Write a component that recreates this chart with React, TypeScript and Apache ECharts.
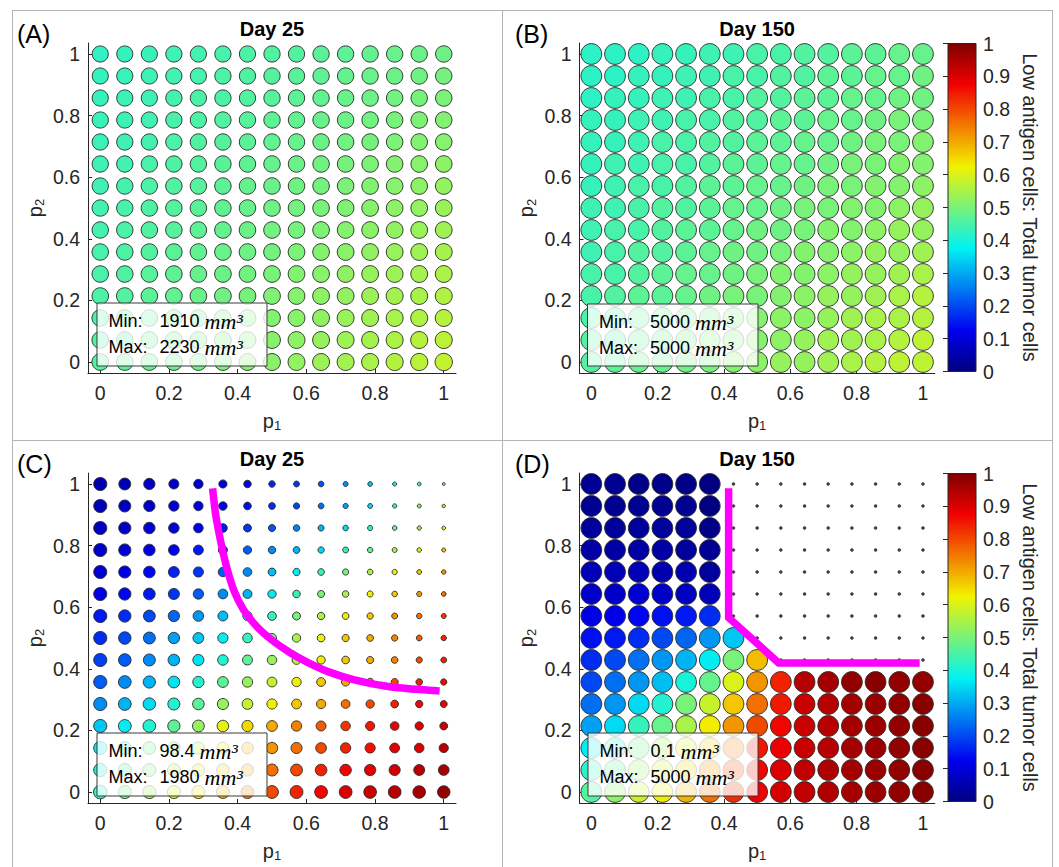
import React, { useEffect, useRef } from 'react';
import * as echarts from 'echarts';

// ---------------- data ----------------
const P = [0, 0.0714, 0.1429, 0.2143, 0.2857, 0.3571, 0.4286, 0.5, 0.5714, 0.6429, 0.7143, 0.7857, 0.8571, 0.9286, 1];
const axisTickValues = [0, 0.2, 0.4, 0.6, 0.8, 1];
const colorbarTickValues = [0, 0.1, 0.2, 0.3, 0.4, 0.5, 0.6, 0.7, 0.8, 0.9, 1];
const panelLabels = ['(A)', '(B)', '(C)', '(D)'];
const panelTitles = ['Day 25', 'Day 150', 'Day 25', 'Day 150'];
const colorbarTitle = 'Low antigen cells: Total tumor cells';
const legendLabels = ['Min:', 'Max:'];
const volumeUnit = 'mm³';
const xName = 'p';
const yName = 'p';

// rows: top (p2 = 1) to bottom (p2 = 0); columns: p1 = 0 .. 1
const fracA = [
  [0.425, 0.430, 0.434, 0.439, 0.444, 0.448, 0.453, 0.458, 0.462, 0.467, 0.471, 0.476, 0.481, 0.485, 0.490],
  [0.428, 0.432, 0.437, 0.442, 0.447, 0.452, 0.457, 0.462, 0.467, 0.472, 0.476, 0.481, 0.486, 0.491, 0.496],
  [0.430, 0.435, 0.440, 0.445, 0.451, 0.456, 0.461, 0.466, 0.471, 0.476, 0.482, 0.487, 0.492, 0.497, 0.502],
  [0.433, 0.438, 0.443, 0.449, 0.454, 0.460, 0.465, 0.470, 0.476, 0.481, 0.487, 0.492, 0.498, 0.503, 0.508],
  [0.435, 0.441, 0.446, 0.452, 0.458, 0.463, 0.469, 0.475, 0.480, 0.486, 0.492, 0.497, 0.503, 0.509, 0.514],
  [0.438, 0.443, 0.449, 0.455, 0.461, 0.467, 0.473, 0.479, 0.485, 0.491, 0.497, 0.503, 0.509, 0.514, 0.520],
  [0.440, 0.446, 0.452, 0.459, 0.465, 0.471, 0.477, 0.483, 0.489, 0.496, 0.502, 0.508, 0.514, 0.520, 0.526],
  [0.443, 0.449, 0.455, 0.462, 0.468, 0.475, 0.481, 0.488, 0.494, 0.500, 0.507, 0.513, 0.520, 0.526, 0.533],
  [0.445, 0.452, 0.458, 0.465, 0.472, 0.478, 0.485, 0.492, 0.498, 0.505, 0.512, 0.519, 0.525, 0.532, 0.539],
  [0.448, 0.454, 0.461, 0.468, 0.475, 0.482, 0.489, 0.496, 0.503, 0.510, 0.517, 0.524, 0.531, 0.538, 0.545],
  [0.450, 0.457, 0.464, 0.472, 0.479, 0.486, 0.493, 0.500, 0.508, 0.515, 0.522, 0.529, 0.536, 0.544, 0.551],
  [0.453, 0.460, 0.467, 0.475, 0.482, 0.490, 0.497, 0.505, 0.512, 0.520, 0.527, 0.535, 0.542, 0.549, 0.557],
  [0.455, 0.463, 0.470, 0.478, 0.486, 0.494, 0.501, 0.509, 0.517, 0.524, 0.532, 0.540, 0.548, 0.555, 0.563],
  [0.458, 0.465, 0.473, 0.481, 0.489, 0.497, 0.505, 0.513, 0.521, 0.529, 0.537, 0.545, 0.553, 0.561, 0.569],
  [0.460, 0.468, 0.476, 0.485, 0.493, 0.501, 0.509, 0.517, 0.526, 0.534, 0.542, 0.550, 0.558, 0.567, 0.575],
];
const volA = [
  [1910, 1914, 1919, 1925, 1930, 1934, 1939, 1945, 1950, 1955, 1961, 1966, 1972, 1977, 1983],
  [1918, 1923, 1928, 1933, 1938, 1943, 1948, 1954, 1959, 1964, 1970, 1975, 1981, 1986, 1992],
  [1927, 1932, 1937, 1942, 1947, 1952, 1957, 1963, 1968, 1974, 1979, 1985, 1991, 1996, 2002],
  [1936, 1941, 1946, 1951, 1956, 1962, 1967, 1973, 1978, 1984, 1990, 1996, 2002, 2007, 2013],
  [1945, 1950, 1955, 1961, 1966, 1972, 1977, 1983, 1989, 1995, 2001, 2007, 2013, 2019, 2025],
  [1955, 1960, 1965, 1971, 1976, 1982, 1988, 1994, 2000, 2006, 2012, 2018, 2025, 2031, 2037],
  [1965, 1970, 1976, 1981, 1987, 1993, 1999, 2005, 2011, 2017, 2024, 2030, 2037, 2043, 2050],
  [1975, 1981, 1986, 1992, 1998, 2004, 2010, 2017, 2023, 2029, 2036, 2043, 2049, 2056, 2063],
  [1986, 1992, 1997, 2003, 2009, 2016, 2022, 2029, 2035, 2042, 2049, 2056, 2063, 2070, 2077],
  [1997, 2003, 2009, 2015, 2021, 2028, 2034, 2041, 2048, 2055, 2062, 2069, 2076, 2084, 2091],
  [2009, 2015, 2021, 2027, 2034, 2040, 2047, 2054, 2061, 2068, 2075, 2083, 2090, 2098, 2106],
  [2021, 2027, 2033, 2040, 2046, 2053, 2060, 2067, 2074, 2082, 2089, 2097, 2105, 2113, 2121],
  [2033, 2040, 2046, 2053, 2059, 2066, 2073, 2081, 2088, 2096, 2104, 2112, 2120, 2128, 2137],
  [2046, 2053, 2059, 2066, 2073, 2080, 2087, 2095, 2103, 2111, 2119, 2127, 2135, 2144, 2153],
  [2060, 2066, 2073, 2080, 2087, 2094, 2102, 2110, 2118, 2126, 2134, 2143, 2152, 2190, 2230],
];

const fracB = [
  [0.42, 0.42, 0.42, 0.43, 0.43, 0.44, 0.44, 0.45, 0.45, 0.46, 0.46, 0.47, 0.47, 0.48, 0.48],
  [0.42, 0.42, 0.43, 0.43, 0.44, 0.44, 0.45, 0.45, 0.46, 0.46, 0.47, 0.47, 0.48, 0.48, 0.49],
  [0.42, 0.43, 0.43, 0.44, 0.44, 0.45, 0.45, 0.46, 0.46, 0.47, 0.47, 0.48, 0.48, 0.49, 0.49],
  [0.43, 0.43, 0.44, 0.44, 0.45, 0.45, 0.46, 0.46, 0.47, 0.47, 0.48, 0.48, 0.49, 0.50, 0.50],
  [0.43, 0.43, 0.44, 0.45, 0.45, 0.46, 0.46, 0.47, 0.47, 0.48, 0.48, 0.49, 0.50, 0.50, 0.51],
  [0.43, 0.44, 0.44, 0.45, 0.45, 0.46, 0.47, 0.47, 0.48, 0.48, 0.49, 0.50, 0.50, 0.51, 0.51],
  [0.43, 0.44, 0.45, 0.45, 0.46, 0.47, 0.47, 0.48, 0.48, 0.49, 0.50, 0.50, 0.51, 0.51, 0.52],
  [0.44, 0.44, 0.45, 0.46, 0.46, 0.47, 0.48, 0.48, 0.49, 0.50, 0.50, 0.51, 0.51, 0.52, 0.53],
  [0.44, 0.45, 0.45, 0.46, 0.47, 0.47, 0.48, 0.49, 0.49, 0.50, 0.51, 0.51, 0.52, 0.53, 0.53],
  [0.44, 0.45, 0.46, 0.46, 0.47, 0.48, 0.49, 0.49, 0.50, 0.51, 0.51, 0.52, 0.53, 0.53, 0.54],
  [0.45, 0.45, 0.46, 0.47, 0.48, 0.48, 0.49, 0.50, 0.51, 0.51, 0.52, 0.53, 0.53, 0.54, 0.55],
  [0.45, 0.46, 0.47, 0.47, 0.48, 0.49, 0.50, 0.50, 0.51, 0.52, 0.53, 0.53, 0.54, 0.55, 0.56],
  [0.45, 0.46, 0.47, 0.48, 0.49, 0.49, 0.50, 0.51, 0.52, 0.52, 0.53, 0.54, 0.55, 0.55, 0.56],
  [0.46, 0.46, 0.47, 0.48, 0.49, 0.50, 0.50, 0.51, 0.52, 0.53, 0.54, 0.54, 0.55, 0.56, 0.57],
  [0.46, 0.47, 0.48, 0.48, 0.49, 0.50, 0.51, 0.52, 0.53, 0.53, 0.54, 0.55, 0.56, 0.57, 0.57],
];
const volB = [
  [5000, 5000, 5000, 5000, 5000, 5000, 5000, 5000, 5000, 5000, 5000, 5000, 5000, 5000, 5000],
  [5000, 5000, 5000, 5000, 5000, 5000, 5000, 5000, 5000, 5000, 5000, 5000, 5000, 5000, 5000],
  [5000, 5000, 5000, 5000, 5000, 5000, 5000, 5000, 5000, 5000, 5000, 5000, 5000, 5000, 5000],
  [5000, 5000, 5000, 5000, 5000, 5000, 5000, 5000, 5000, 5000, 5000, 5000, 5000, 5000, 5000],
  [5000, 5000, 5000, 5000, 5000, 5000, 5000, 5000, 5000, 5000, 5000, 5000, 5000, 5000, 5000],
  [5000, 5000, 5000, 5000, 5000, 5000, 5000, 5000, 5000, 5000, 5000, 5000, 5000, 5000, 5000],
  [5000, 5000, 5000, 5000, 5000, 5000, 5000, 5000, 5000, 5000, 5000, 5000, 5000, 5000, 5000],
  [5000, 5000, 5000, 5000, 5000, 5000, 5000, 5000, 5000, 5000, 5000, 5000, 5000, 5000, 5000],
  [5000, 5000, 5000, 5000, 5000, 5000, 5000, 5000, 5000, 5000, 5000, 5000, 5000, 5000, 5000],
  [5000, 5000, 5000, 5000, 5000, 5000, 5000, 5000, 5000, 5000, 5000, 5000, 5000, 5000, 5000],
  [5000, 5000, 5000, 5000, 5000, 5000, 5000, 5000, 5000, 5000, 5000, 5000, 5000, 5000, 5000],
  [5000, 5000, 5000, 5000, 5000, 5000, 5000, 5000, 5000, 5000, 5000, 5000, 5000, 5000, 5000],
  [5000, 5000, 5000, 5000, 5000, 5000, 5000, 5000, 5000, 5000, 5000, 5000, 5000, 5000, 5000],
  [5000, 5000, 5000, 5000, 5000, 5000, 5000, 5000, 5000, 5000, 5000, 5000, 5000, 5000, 5000],
  [5000, 5000, 5000, 5000, 5000, 5000, 5000, 5000, 5000, 5000, 5000, 5000, 5000, 5000, 5000],
];

const fracC = [
  [0.05, 0.06, 0.07, 0.08, 0.09, 0.10, 0.12, 0.16, 0.18, 0.21, 0.27, 0.33, 0.39, 0.45, 0.50],
  [0.06, 0.07, 0.08, 0.09, 0.10, 0.12, 0.14, 0.17, 0.20, 0.24, 0.29, 0.35, 0.43, 0.52, 0.56],
  [0.07, 0.08, 0.09, 0.10, 0.12, 0.15, 0.18, 0.21, 0.26, 0.31, 0.35, 0.41, 0.48, 0.55, 0.60],
  [0.08, 0.09, 0.11, 0.12, 0.15, 0.18, 0.22, 0.27, 0.31, 0.35, 0.43, 0.48, 0.55, 0.61, 0.67],
  [0.09, 0.11, 0.13, 0.16, 0.18, 0.22, 0.27, 0.32, 0.37, 0.43, 0.50, 0.55, 0.62, 0.67, 0.72],
  [0.11, 0.13, 0.15, 0.18, 0.22, 0.27, 0.31, 0.37, 0.43, 0.50, 0.55, 0.62, 0.67, 0.72, 0.76],
  [0.15, 0.17, 0.20, 0.23, 0.28, 0.32, 0.37, 0.43, 0.50, 0.55, 0.62, 0.67, 0.72, 0.76, 0.82],
  [0.17, 0.20, 0.24, 0.29, 0.33, 0.37, 0.43, 0.50, 0.55, 0.62, 0.67, 0.70, 0.74, 0.78, 0.84],
  [0.19, 0.22, 0.27, 0.31, 0.36, 0.41, 0.47, 0.53, 0.56, 0.62, 0.67, 0.70, 0.74, 0.80, 0.84],
  [0.22, 0.27, 0.31, 0.36, 0.41, 0.47, 0.53, 0.58, 0.62, 0.67, 0.70, 0.74, 0.80, 0.84, 0.87],
  [0.27, 0.31, 0.35, 0.41, 0.47, 0.53, 0.58, 0.62, 0.67, 0.70, 0.76, 0.80, 0.84, 0.87, 0.88],
  [0.33, 0.37, 0.41, 0.47, 0.53, 0.61, 0.65, 0.70, 0.74, 0.78, 0.82, 0.85, 0.88, 0.90, 0.92],
  [0.37, 0.42, 0.48, 0.53, 0.58, 0.63, 0.68, 0.72, 0.76, 0.80, 0.84, 0.86, 0.89, 0.90, 0.94],
  [0.40, 0.45, 0.50, 0.56, 0.60, 0.65, 0.70, 0.76, 0.80, 0.84, 0.87, 0.89, 0.91, 0.94, 0.96],
  [0.42, 0.48, 0.54, 0.60, 0.64, 0.68, 0.74, 0.80, 0.84, 0.87, 0.90, 0.92, 0.94, 0.96, 0.98],
];
const volC = [
  [1846, 1519, 1356, 1078, 942, 713, 603, 462, 374, 339, 265, 236, 174, 151, 98.4],
  [1846, 1543, 1356, 1140, 942, 763, 633, 502, 410, 362, 295, 255, 199, 166, 122],
  [1846, 1592, 1402, 1182, 980, 815, 681, 544, 462, 398, 339, 285, 236, 191, 151],
  [1846, 1592, 1425, 1224, 1039, 868, 729, 603, 502, 436, 374, 317, 265, 217, 174],
  [1846, 1592, 1448, 1268, 1099, 942, 797, 665, 559, 475, 410, 351, 295, 245, 208],
  [1846, 1617, 1472, 1312, 1140, 999, 850, 729, 618, 530, 462, 398, 339, 285, 236],
  [1846, 1641, 1496, 1356, 1203, 1058, 923, 797, 681, 588, 502, 436, 374, 317, 275],
  [1846, 1666, 1519, 1379, 1246, 1119, 980, 868, 746, 649, 559, 488, 423, 362, 317],
  [1846, 1691, 1543, 1425, 1312, 1182, 1058, 942, 832, 729, 633, 544, 475, 410, 362],
  [1846, 1717, 1592, 1472, 1356, 1246, 1140, 1019, 923, 815, 713, 618, 544, 475, 423],
  [1846, 1742, 1641, 1543, 1425, 1334, 1224, 1119, 1019, 923, 815, 729, 649, 573, 516],
  [1846, 1768, 1691, 1592, 1496, 1425, 1334, 1246, 1140, 1058, 961, 886, 797, 729, 665],
  [1846, 1794, 1742, 1666, 1592, 1519, 1448, 1379, 1312, 1224, 1161, 1099, 1019, 961, 905],
  [1846, 1820, 1794, 1742, 1691, 1641, 1592, 1543, 1496, 1448, 1402, 1356, 1312, 1268, 1224],
  [1980, 1846, 1846, 1820, 1820, 1794, 1794, 1768, 1768, 1742, 1742, 1717, 1717, 1691, 1666],
];

const N = null;
const fracD = [
  [0.02, 0.02, 0.01, 0.01, 0.01, 0.00, N, N, N, N, N, N, N, N, N],
  [0.02, 0.02, 0.02, 0.02, 0.02, 0.00, N, N, N, N, N, N, N, N, N],
  [0.03, 0.03, 0.03, 0.03, 0.03, 0.01, N, N, N, N, N, N, N, N, N],
  [0.04, 0.04, 0.04, 0.04, 0.03, 0.02, N, N, N, N, N, N, N, N, N],
  [0.06, 0.06, 0.06, 0.05, 0.05, 0.03, N, N, N, N, N, N, N, N, N],
  [0.08, 0.08, 0.09, 0.08, 0.07, 0.06, N, N, N, N, N, N, N, N, N],
  [0.11, 0.12, 0.13, 0.14, 0.15, 0.17, N, N, N, N, N, N, N, N, N],
  [0.14, 0.15, 0.17, 0.20, 0.23, 0.28, 0.33, N, N, N, N, N, N, N, N],
  [0.17, 0.20, 0.24, 0.28, 0.31, 0.37, 0.50, 0.68, N, N, N, N, N, N, N],
  [0.20, 0.24, 0.28, 0.32, 0.40, 0.48, 0.60, 0.72, 0.84, 0.94, 0.96, 0.98, 0.99, 0.98, 0.98],
  [0.24, 0.28, 0.35, 0.41, 0.50, 0.58, 0.67, 0.76, 0.85, 0.92, 0.94, 0.96, 0.97, 0.98, 0.99],
  [0.29, 0.35, 0.43, 0.48, 0.55, 0.63, 0.72, 0.80, 0.87, 0.92, 0.94, 0.96, 0.97, 0.98, 0.99],
  [0.37, 0.42, 0.48, 0.54, 0.60, 0.66, 0.74, 0.85, 0.88, 0.92, 0.94, 0.96, 0.97, 0.98, 0.99],
  [0.42, 0.47, 0.53, 0.59, 0.65, 0.72, 0.80, 0.87, 0.90, 0.93, 0.95, 0.96, 0.97, 0.98, 0.99],
  [0.46, 0.52, 0.58, 0.63, 0.69, 0.76, 0.83, 0.88, 0.91, 0.93, 0.95, 0.96, 0.97, 0.98, 0.99],
];
const volD = [
  [5000, 5000, 5000, 5000, 5000, 5000, 0.1, 0.1, 0.1, 0.1, 0.1, 0.1, 0.1, 0.1, 0.1],
  [5000, 5000, 5000, 5000, 5000, 5000, 0.1, 0.1, 0.1, 0.1, 0.1, 0.1, 0.1, 0.1, 0.1],
  [5000, 5000, 5000, 5000, 5000, 5000, 0.1, 0.1, 0.1, 0.1, 0.1, 0.1, 0.1, 0.1, 0.1],
  [5000, 5000, 5000, 5000, 5000, 5000, 0.1, 0.1, 0.1, 0.1, 0.1, 0.1, 0.1, 0.1, 0.1],
  [5000, 5000, 5000, 5000, 5000, 5000, 0.1, 0.1, 0.1, 0.1, 0.1, 0.1, 0.1, 0.1, 0.1],
  [5000, 5000, 5000, 5000, 5000, 5000, 0.1, 0.1, 0.1, 0.1, 0.1, 0.1, 0.1, 0.1, 0.1],
  [5000, 5000, 5000, 5000, 5000, 5000, 0.1, 0.1, 0.1, 0.1, 0.1, 0.1, 0.1, 0.1, 0.1],
  [5000, 5000, 5000, 5000, 5000, 5000, 5000, 0.1, 0.1, 0.1, 0.1, 0.1, 0.1, 0.1, 0.1],
  [5000, 5000, 5000, 5000, 5000, 5000, 5000, 5000, 0.1, 0.1, 0.1, 0.1, 0.1, 0.1, 0.1],
  [5000, 5000, 5000, 5000, 5000, 5000, 5000, 5000, 5000, 5000, 5000, 5000, 5000, 5000, 5000],
  [5000, 5000, 5000, 5000, 5000, 5000, 5000, 5000, 5000, 5000, 5000, 5000, 5000, 5000, 5000],
  [5000, 5000, 5000, 5000, 5000, 5000, 5000, 5000, 5000, 5000, 5000, 5000, 5000, 5000, 5000],
  [5000, 5000, 5000, 5000, 5000, 5000, 5000, 5000, 5000, 5000, 5000, 5000, 5000, 5000, 5000],
  [5000, 5000, 5000, 5000, 5000, 5000, 5000, 5000, 5000, 5000, 5000, 5000, 5000, 5000, 5000],
  [5000, 5000, 5000, 5000, 5000, 5000, 5000, 5000, 5000, 5000, 5000, 5000, 5000, 5000, 5000],
];

// boundary curves (p1, p2)
const boundaryC = [
  [0.327, 0.986], [0.336, 0.9], [0.352, 0.806], [0.368, 0.73], [0.389, 0.655], [0.417, 0.592],
  [0.455, 0.538], [0.5, 0.493], [0.553, 0.452], [0.605, 0.42], [0.665, 0.39], [0.74, 0.364],
  [0.83, 0.344], [0.9, 0.335], [0.988, 0.328],
];
const boundaryD = [[0.414, 0.986], [0.414, 0.566], [0.565, 0.419], [0.99, 0.419]];

// ---------------- styling ----------------
const FONT = '"Liberation Sans", Arial, Helvetica, sans-serif';
const SERIF = '"Liberation Serif", "Times New Roman", serif';
const AX = '#262626';
const JET = ['#000080', '#0000F2', '#0079F2', '#00F2F2', '#79F279', '#F2F200', '#F27900', '#F20000', '#800000'];
const AXIS_MIN = -0.0357;
const AXIS_MAX = 1.0357;

const grids = [
  { left: 88, top: 43, width: 368, height: 330 },
  { left: 579.5, top: 43, width: 355.3, height: 330 },
  { left: 88, top: 473, width: 368, height: 330 },
  { left: 579.5, top: 473, width: 355.3, height: 330 },
];
const colorbarGrids = [
  { left: 948, top: 43.5, width: 28, height: 328 },
  { left: 948, top: 473.5, width: 28, height: 328 },
];
const sizeScale = [
  { dmax: 17.4, vmax: 2230 },
  { dmax: 20.8, vmax: 5000 },
  { dmax: 13.6, vmax: 1980 },
  { dmax: 20.8, vmax: 5000 },
];
const legendBoxes = [
  { x: 97, y: 303, w: 170, h: 63 },
  { x: 587.5, y: 304, w: 170.5, h: 62 },
  { x: 97, y: 733, w: 170, h: 63 },
  { x: 588, y: 733, w: 170, h: 63 },
];

function points(frac: (number | null)[][], vol: number[][], keep: (f: number | null) => boolean) {
  const out: any[] = [];
  for (let r = 0; r < frac.length; r++) {
    for (let c = 0; c < frac[r].length; c++) {
      const f = frac[r][c];
      if (!keep(f)) continue;
      out.push([P[c], P[P.length - 1 - r], f === null ? 0 : f, vol[r][c]]);
    }
  }
  return out;
}

function minMax(vol: number[][]) {
  let mn = Infinity;
  let mx = -Infinity;
  vol.forEach((row) => row.forEach((v) => { mn = Math.min(mn, v); mx = Math.max(mx, v); }));
  return [mn, mx];
}

function sizer(i: number) {
  const s = sizeScale[i];
  return (val: number[]) => Math.max(3, s.dmax * Math.sqrt(val[3] / s.vmax));
}

function subName(base: string, sub: string) {
  return `{a|${base}}{b|${sub}}`;
}
const nameRich = {
  a: { fontSize: 20, fontFamily: FONT, color: AX },
  b: { fontSize: 13, fontFamily: FONT, color: AX, padding: [10, 0, 0, 0] },
};

function xAxisFor(gi: number) {
  return {
    gridIndex: gi,
    type: 'value',
    min: AXIS_MIN,
    max: AXIS_MAX,
    axisLine: { show: true, onZero: false, lineStyle: { color: AX, width: 1 } },
    axisTick: { show: true, inside: true, length: 4, customValues: axisTickValues, lineStyle: { color: AX, width: 1 } },
    axisLabel: { show: true, customValues: axisTickValues, margin: 10, fontSize: 19.5, fontFamily: FONT, color: AX },
    splitLine: { show: false },
    name: subName(xName, '1'),
    nameLocation: 'middle',
    nameGap: 36,
    nameTextStyle: { rich: nameRich },
  };
}
function yAxisFor(gi: number) {
  return {
    gridIndex: gi,
    type: 'value',
    min: AXIS_MIN,
    max: AXIS_MAX,
    axisLine: { show: true, onZero: false, lineStyle: { color: AX, width: 1 } },
    axisTick: { show: true, inside: true, length: 4, customValues: axisTickValues, lineStyle: { color: AX, width: 1 } },
    axisLabel: { show: true, customValues: axisTickValues, margin: 8, fontSize: 19.5, fontFamily: FONT, color: AX },
    splitLine: { show: false },
    name: subName(yName, '2'),
    nameLocation: 'middle',
    nameGap: 42,
    nameTextStyle: { rich: nameRich },
  };
}
function cbYAxis(gi: number) {
  return {
    gridIndex: gi,
    type: 'value',
    min: 0,
    max: 1,
    position: 'right',
    axisLine: { show: false },
    axisTick: { show: true, inside: true, length: 5, customValues: colorbarTickValues, lineStyle: { color: AX, width: 1 } },
    axisLabel: { show: true, customValues: colorbarTickValues, margin: 7, fontSize: 19.5, fontFamily: FONT, color: AX },
    splitLine: { show: false },
    name: colorbarTitle,
    nameLocation: 'middle',
    nameRotate: -90,
    nameGap: 44,
    nameTextStyle: { fontSize: 20, fontFamily: FONT, color: AX },
  };
}

const markerStyle = { borderColor: '#2b2b2b', borderWidth: 0.9, opacity: 1 };
const lineStyle = { color: '#FF00FF', width: 7.5, cap: 'butt', join: 'miter' };

export default function App() {
  const ref = useRef<HTMLDivElement>(null);

  useEffect(() => {
    document.body.style.margin = '0';
    if (!ref.current) return;
    const chart = echarts.init(ref.current, null, { renderer: 'svg' });

    const gradient = () =>
      new echarts.graphic.LinearGradient(0, 1, 0, 0, JET.map((c, i) => ({ offset: i / (JET.length - 1), color: c })));

    const vols = [volA, volB, volC, volD];
    const graphics: any[] = [];
    const frameStyle = { stroke: '#b5b5b5', lineWidth: 1 };
    [
      [12, 10.5, 1052, 10.5], [12, 440.5, 1052, 440.5],
      [12.5, 10, 12.5, 867], [502.5, 10, 502.5, 867], [1052.5, 10, 1052.5, 867],
    ].forEach(([x1, y1, x2, y2]) =>
      graphics.push({ type: 'line', shape: { x1, y1, x2, y2 }, style: frameStyle, z: 1, silent: true })
    );
    grids.forEach((g, i) => {
      const row = i < 2 ? 0 : 430;
      graphics.push({
        type: 'text', x: i % 2 === 0 ? 17 : 515, y: 33.5 + row, z: 50,
        style: { text: panelLabels[i], fontSize: 25, fontFamily: FONT, fill: '#000', align: 'left', verticalAlign: 'middle' },
      });
      graphics.push({
        type: 'text', x: g.left + g.width / 2, y: 28.5 + row, z: 50,
        style: { text: panelTitles[i], fontSize: 20, fontWeight: 'bold', fontFamily: FONT, fill: '#000', align: 'center', verticalAlign: 'middle' },
      });
      const b = legendBoxes[i];
      graphics.push({
        type: 'rect', shape: { x: b.x, y: b.y, width: b.w, height: b.h }, z: 100,
        style: { fill: 'rgba(255,255,255,0.8)', stroke: '#3a3a3a', lineWidth: 1 },
      });
      const [mn, mx] = minMax(vols[i]);
      [String(mn), String(mx)].forEach((num, k) => {
        graphics.push({
          type: 'text', x: b.x + 11.5, y: b.y + 18 + k * 26, z: 101,
          style: {
            text: `{l|${legendLabels[k]}}{n|${num} }{m|${volumeUnit}}`,
            align: 'left', verticalAlign: 'middle',
            rich: {
              l: { width: 51, fontSize: 18, fontFamily: FONT, fill: '#000' },
              n: { fontSize: 18, fontFamily: FONT, fill: '#000' },
              m: { fontSize: 22, fontFamily: SERIF, fontStyle: 'italic', fill: '#000' },
            },
          },
        });
      });
    });

    const option: any = {
      animation: false,
      backgroundColor: '#ffffff',
      grid: [
        ...grids.map((g) => ({ ...g, containLabel: false })),
        ...colorbarGrids.map((g) => ({
          ...g, show: true, backgroundColor: gradient(), borderColor: AX, borderWidth: 1, containLabel: false,
        })),
      ],
      xAxis: [
        xAxisFor(0), xAxisFor(1), xAxisFor(2), xAxisFor(3),
        { gridIndex: 4, type: 'value', min: 0, max: 1, show: false },
        { gridIndex: 5, type: 'value', min: 0, max: 1, show: false },
      ],
      yAxis: [yAxisFor(0), yAxisFor(1), yAxisFor(2), yAxisFor(3), cbYAxis(4), cbYAxis(5)],
      visualMap: [
        {
          type: 'continuous', show: false, min: 0, max: 1, dimension: 2,
          seriesIndex: [0, 1, 2, 4], inRange: { color: JET },
        },
      ],
      series: [
        { type: 'scatter', xAxisIndex: 0, yAxisIndex: 0, data: points(fracA, volA, () => true), symbol: 'circle', symbolSize: sizer(0), itemStyle: markerStyle, silent: true },
        { type: 'scatter', xAxisIndex: 1, yAxisIndex: 1, data: points(fracB, volB, () => true), symbol: 'circle', symbolSize: sizer(1), itemStyle: markerStyle, silent: true },
        { type: 'scatter', xAxisIndex: 2, yAxisIndex: 2, data: points(fracC, volC, () => true), symbol: 'circle', symbolSize: sizer(2), itemStyle: markerStyle, silent: true },
        { type: 'line', xAxisIndex: 2, yAxisIndex: 2, data: boundaryC, smooth: 0.2, symbol: 'none', lineStyle, z: 5, silent: true },
        { type: 'scatter', xAxisIndex: 3, yAxisIndex: 3, data: points(fracD, volD, (f) => f !== null), symbol: 'circle', symbolSize: sizer(3), itemStyle: markerStyle, silent: true },
        { type: 'scatter', xAxisIndex: 3, yAxisIndex: 3, data: points(fracD, volD, (f) => f === null), symbol: 'circle', symbolSize: sizer(3), itemStyle: { color: '#111', borderColor: '#111', borderWidth: 0.5 }, silent: true },
        { type: 'line', xAxisIndex: 3, yAxisIndex: 3, data: boundaryD, symbol: 'none', lineStyle, z: 5, silent: true },
        { type: 'scatter', xAxisIndex: 4, yAxisIndex: 4, data: [], silent: true },
        { type: 'scatter', xAxisIndex: 5, yAxisIndex: 5, data: [], silent: true },
      ],
      graphic: graphics,
    };

    chart.setOption(option);
    return () => chart.dispose();
  }, []);

  return <div ref={ref} style={{ width: 1059, height: 867, background: '#fff' }} />;
}
